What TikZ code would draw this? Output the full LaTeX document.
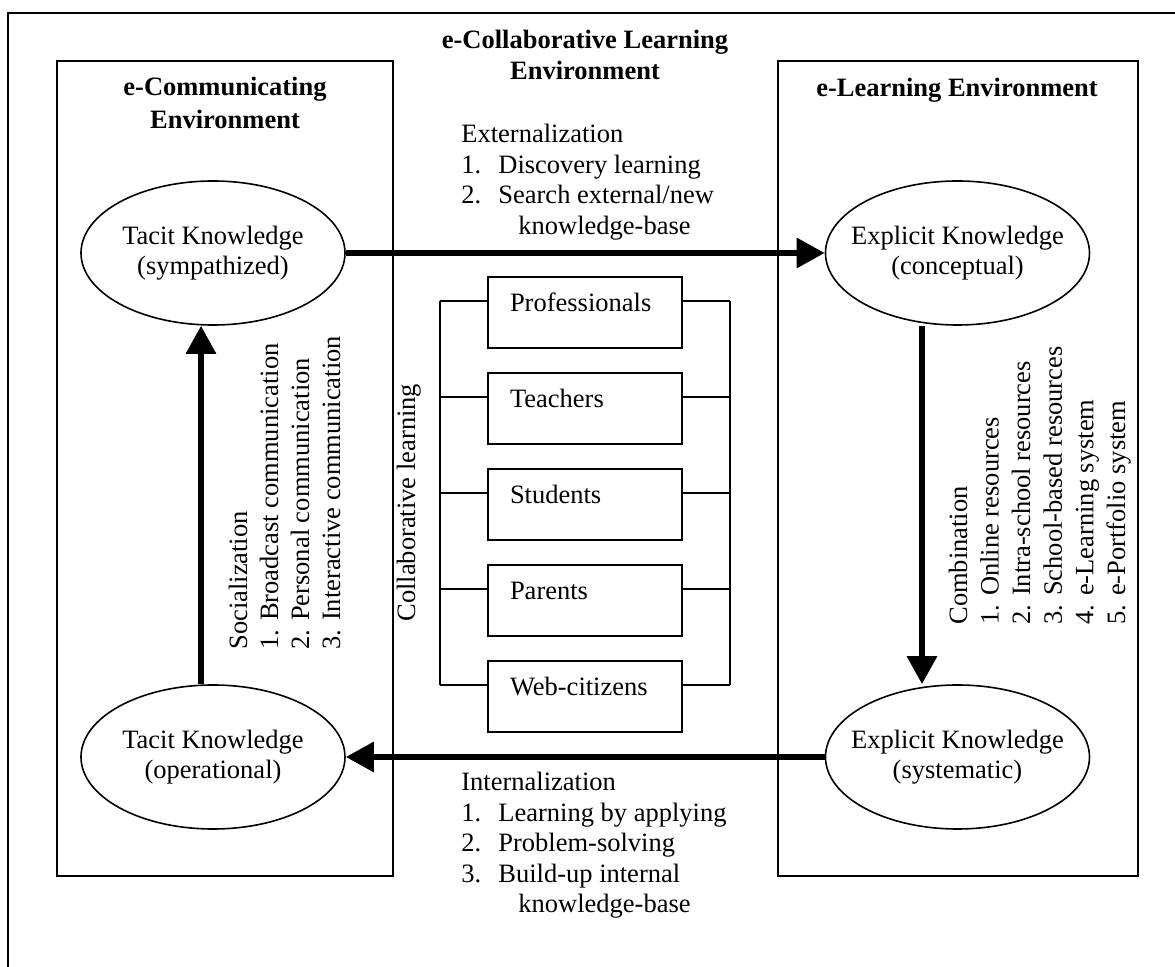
\documentclass[tikz,border=0pt]{standalone}
\usepackage{fontspec}
\setmainfont{Liberation Serif}
\usetikzlibrary{arrows.meta, shapes.geometric, positioning}
\newcommand{\figfont}{\fontsize{13.25pt}{15.25pt}\selectfont}
\newcommand{\itm}[1]{\makebox[18.5pt][l]{#1}}
\tikzset{
  >={Triangle[length=14pt, width=14.5pt]},
  env/.style={draw, line width=1pt, inner sep=0pt},
  know/.style={ellipse, draw, line width=0.8pt, align=center, inner xsep=-7pt, inner ysep=0pt,
    minimum width=132pt, minimum height=72pt, font=\figfont},
  member/.style={draw, line width=1pt, text width=75pt, align=left, inner xsep=11pt,
    inner ysep=0pt, text height=17.5pt, text depth=18pt, font=\figfont},
  head/.style={font=\figfont\bfseries, align=center, inner sep=0pt},
  note/.style={font=\figfont, inner sep=0pt, anchor=base west},
  side/.style={note, rotate=90},
  flow/.style={->, line width=3pt},
  wire/.style={line width=1pt},
}

\begin{document}
\begin{tikzpicture}[x=0.5pt, y=-0.5pt]
  \useasboundingbox (0,0) rectangle (1175,967);

  % The outer frame runs off the page at the right and at the bottom.
  \draw[line width=1pt] (8,13) rectangle (1190,990);

  % The two environments and their titles.
  \node[env, minimum width=168pt, minimum height=407.5pt] (comm) at (225,468.5) {};
  \node[env, minimum width=180pt, minimum height=407.5pt] (lrn) at (958,468.5) {};
  \node[head] (commtitle) at (225,103) {e-Communicating\\[1.5pt]Environment};
  \node[head] (collabtitle) at (585,55) {e-Collaborative Learning\\Environment};
  \node[head, anchor=base] (lrntitle) at (957,97) {e-Learning Environment};

  % Knowledge in the four corners.
  \node[know] (tacitS) at (213,253) {Tacit Knowledge\\(sympathized)};
  \node[know] (explC) at (957.5,253) {Explicit Knowledge\\(conceptual)};
  \node[know] (tacitO) at (213,757) {Tacit Knowledge\\(operational)};
  \node[know] (explS) at (957.5,757) {Explicit Knowledge\\(systematic)};

  \draw[flow] (tacitS) -- (explC);
  \draw[flow] ([xshift=-17.75pt]explC.south) -- ([xshift=-17.75pt]explS.north);
  \draw[flow] (explS) -- (tacitO);
  \draw[flow] ([xshift=-6pt]tacitO.north) -- ([xshift=-6pt]tacitS.south);

  % The members, hung between two bus lines.
  \foreach \name/\txt [count=\i from 0] in {prof/Professionals, teach/Teachers,
      stud/Students, par/Parents, web/Web-citizens}{
    \node[member] (\name) at (585,{312.5+96*\i}) {\txt};
    \draw[wire] ([yshift=5.75pt]\name.west) -- ++(-23.5pt,0);
    \draw[wire] ([yshift=5.75pt]\name.east) -- ++(23.5pt,0);
  }
  \draw[wire] ([shift={(-23.5pt,5.75pt)}]prof.west) -- ([shift={(-23.5pt,5.75pt)}]web.west);
  \draw[wire] ([shift={(23.5pt,5.75pt)}]prof.east) -- ([shift={(23.5pt,5.75pt)}]web.east);
  \node[side] (collab) at (415,622) {Collaborative learning};

  % Externalization, above the top arrow.
  \node[note] (ext0) at (461,143) {Externalization};
  \node[note] (ext1) at (461,173.5) {\itm{1.}Discovery learning};
  \node[note] (ext2) at (461,204) {\itm{2.}Search external/new};
  \node[note] (ext3) at (518,234.5) {knowledge-base};

  % Internalization, below the bottom arrow.
  \node[note] (int0) at (461,791) {Internalization};
  \node[note] (int1) at (461,821.5) {\itm{1.}Learning by applying};
  \node[note] (int2) at (461,852) {\itm{2.}Problem-solving};
  \node[note] (int3) at (461,882.5) {\itm{3.}Build-up internal};
  \node[note] (int4) at (518,913) {knowledge-base};

  % Socialization, beside the left arrow.
  \node[side] (soc0) at (247,650) {Socialization};
  \node[side] (soc1) at (278,650) {1. Broadcast communication};
  \node[side] (soc2) at (309,650) {2. Personal communication};
  \node[side] (soc3) at (340,650) {3. Interactive communication};

  % Combination, beside the right arrow.
  \node[side] (com0) at (967,625) {Combination};
  \node[side] (com1) at (998.6,625) {1. Online resources};
  \node[side] (com2) at (1030.2,625) {2. Intra-school resources};
  \node[side] (com3) at (1061.8,625) {3. School-based resources};
  \node[side] (com4) at (1093.4,625) {4. e-Learning system};
  \node[side] (com5) at (1125,625) {5. e-Portfolio system};
\end{tikzpicture}
\end{document}
